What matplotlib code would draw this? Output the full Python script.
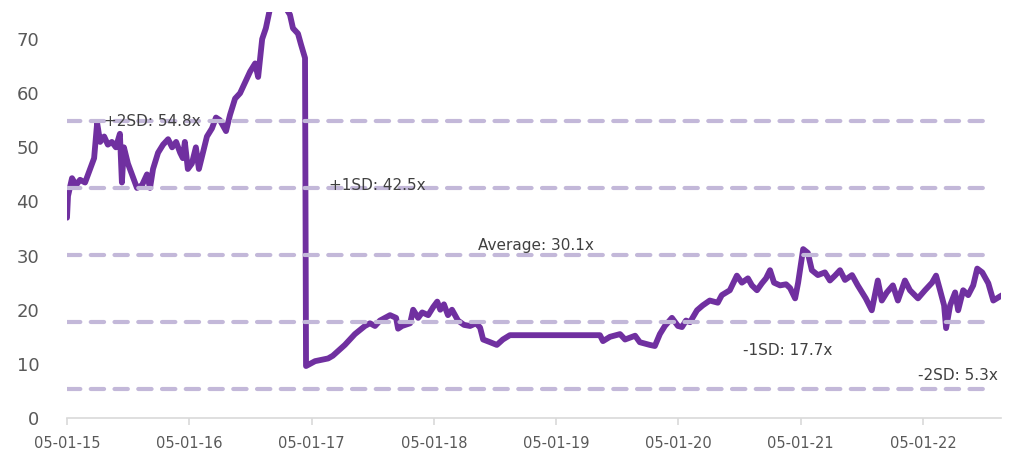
import matplotlib.pyplot as plt
import matplotlib.dates as mdates
import pandas as pd

# P/E history
dates = [
    "2015-01-05", "2015-01-08", "2015-01-20", "2015-02-01", "2015-02-13", "2015-02-28",
    "2015-03-15", "2015-03-27", "2015-04-05", "2015-04-14", "2015-04-26", "2015-05-07",
    "2015-05-19", "2015-05-31", "2015-06-12", "2015-06-18", "2015-06-24", "2015-07-06",
    "2015-07-18", "2015-08-02", "2015-08-17", "2015-09-01", "2015-09-10", "2015-09-19",
    "2015-10-04", "2015-10-19", "2015-11-03", "2015-11-15", "2015-11-27", "2015-12-09",
    "2015-12-17", "2015-12-23", "2016-01-01", "2016-01-13", "2016-01-25", "2016-02-03",
    "2016-02-15", "2016-02-27", "2016-03-13", "2016-03-25", "2016-04-06", "2016-04-24",
    "2016-05-06", "2016-05-21", "2016-06-05", "2016-06-20", "2016-07-05", "2016-07-20",
    "2016-07-29", "2016-08-10", "2016-08-21", "2016-09-02", "2016-09-17", "2016-10-02",
    "2016-10-17", "2016-11-01", "2016-11-10", "2016-11-25", "2016-12-04", "2016-12-16",
    "2016-12-19", "2016-12-31", "2017-01-15", "2017-01-30", "2017-02-23", "2017-03-09",
    "2017-04-14", "2017-05-14", "2017-06-13", "2017-06-28", "2017-07-13", "2017-07-28",
    "2017-08-12", "2017-08-27", "2017-09-14", "2017-09-20", "2017-10-02", "2017-10-26",
    "2017-11-04", "2017-11-19", "2017-12-01", "2017-12-19", "2018-01-03", "2018-01-15",
    "2018-01-24", "2018-02-04", "2018-02-16", "2018-02-28", "2018-03-18", "2018-04-05",
    "2018-04-23", "2018-05-11", "2018-05-23", "2018-06-01", "2018-06-22", "2018-07-12",
    "2018-07-30", "2018-08-20", "2019-05-16", "2019-05-25", "2019-06-15", "2019-07-15",
    "2019-07-30", "2019-08-29", "2019-09-12", "2019-10-12", "2019-10-27", "2019-11-11",
    "2019-11-26", "2019-12-17", "2020-01-04", "2020-01-16", "2020-01-28", "2020-02-09",
    "2020-03-01", "2020-03-18", "2020-04-08", "2020-05-02", "2020-05-14", "2020-06-07",
    "2020-06-28", "2020-07-13", "2020-07-31", "2020-08-12", "2020-08-27", "2020-09-11",
    "2020-09-23", "2020-10-05", "2020-10-17", "2020-11-04", "2020-11-22", "2020-12-04",
    "2020-12-19", "2020-12-28", "2021-01-12", "2021-01-26", "2021-02-07", "2021-02-25",
    "2021-03-18", "2021-04-02", "2021-04-17", "2021-05-02", "2021-05-17", "2021-06-07",
    "2021-06-24", "2021-07-18", "2021-08-05", "2021-08-23", "2021-09-04", "2021-09-19",
    "2021-10-07", "2021-10-22", "2021-11-12", "2021-11-27", "2021-12-21", "2022-01-11",
    "2022-02-01", "2022-02-13", "2022-02-25", "2022-03-09", "2022-03-15", "2022-03-27",
    "2022-04-11", "2022-04-20", "2022-05-05", "2022-05-20", "2022-06-04", "2022-06-16",
    "2022-07-01", "2022-07-19", "2022-08-03", "2022-08-24", "2022-08-30",
]
pe = [
    37.0, 41.0, 44.3, 43.0, 44.0, 43.5,
    46.0, 48.0, 54.5, 51.0, 52.0, 50.5,
    51.0, 50.0, 52.5, 43.5, 50.0, 47.0,
    45.0, 42.5, 43.0, 45.0, 42.5, 46.0,
    49.0, 50.5, 51.5, 50.0, 51.0, 49.0,
    48.0, 51.0, 46.0, 47.0, 50.0, 46.0,
    49.0, 52.0, 53.5, 55.5, 55.0, 53.0,
    56.0, 59.0, 60.0, 62.0, 64.0, 65.5,
    63.0, 70.0, 72.0, 75.5, 77.0, 77.0,
    76.0, 74.5, 72.0, 71.0, 69.0, 66.5,
    9.6, 10.0, 10.5, 10.7, 11.0, 11.5,
    13.5, 15.5, 17.0, 17.5, 17.0, 18.0,
    18.5, 19.0, 18.5, 16.5, 17.0, 17.5,
    20.0, 18.5, 19.5, 19.0, 20.5, 21.5,
    20.0, 21.0, 19.0, 20.0, 18.0, 17.2,
    17.0, 17.5, 16.7, 14.5, 14.0, 13.5,
    14.5, 15.3, 15.3, 14.2, 15.0, 15.5,
    14.5, 15.2, 14.0, 13.5, 13.3, 15.5,
    17.0, 18.5, 17.0, 16.8, 18.0, 17.7,
    19.9, 20.8, 21.7, 21.3, 22.7, 23.6,
    26.3, 25.0, 25.8, 24.5, 23.6, 24.9,
    25.8, 27.3, 25.0, 24.5, 24.7, 24.0,
    22.1, 25.0, 31.2, 30.5, 27.3, 26.4,
    26.9, 25.4, 26.3, 27.3, 25.5, 26.4,
    24.5, 22.1, 19.9, 25.4, 21.7, 23.2,
    24.5, 21.7, 25.4, 23.6, 22.1, 23.6,
    25.0, 26.3, 23.6, 20.8, 16.6, 20.8,
    23.2, 19.9, 23.6, 22.7, 24.5, 27.6,
    26.9, 24.9, 21.7, 22.5, 22.7,
]

band_values = [54.8, 42.5, 30.1, 17.7, 5.3]
band_labels = ["+2SD: 54.8x", "+1SD: 42.5x", "Average: 30.1x", "-1SD: 17.7x", "-2SD: 5.3x"]
label_dates = ["2015-04-25", "2017-02-25", "2018-05-17", "2020-07-16", "2021-12-20"]
label_offsets = [0.0, 0.4, 1.8, -5.2, 2.6]

yticks = [0, 10, 20, 30, 40, 50, 60, 70]
xticks = ["2015-01-05", "2016-01-05", "2017-01-05", "2018-01-05", "2019-01-05",
          "2020-01-05", "2021-01-05", "2022-01-05"]

df = pd.DataFrame({"date": pd.to_datetime(dates), "pe": pe})

fig = plt.figure(figsize=(10.22, 4.59), dpi=100)
ax = fig.add_axes([67 / 1022, 41 / 459, (1001 - 67) / 1022, (447 - 41) / 459])

ax.plot(df.date, df.pe, color="#7030a0", linewidth=4.2, zorder=2,
        solid_joinstyle="round", solid_capstyle="round")

x0 = pd.Timestamp("2015-01-05")
x1 = pd.Timestamp("2022-08-26")
for v in band_values:
    ax.plot([x0, pd.Timestamp("2022-07-28")], [v, v], color="#c3b8d9", linewidth=3.0,
            dashes=(3.2, 2.5), dash_capstyle="round", zorder=3)

for lab, d, v, off in zip(band_labels, label_dates, band_values, label_offsets):
    ax.text(pd.Timestamp(d), v + off, lab, fontsize=11, color="#404040",
            va="center", ha="left", zorder=4)

ax.set_xlim(x0, x1)
ax.set_ylim(0, 75)
ax.set_yticks(yticks)
ax.set_xticks(pd.to_datetime(xticks))
ax.xaxis.set_major_formatter(mdates.DateFormatter("%d-%m-%y"))

for s in ["top", "right", "left"]:
    ax.spines[s].set_visible(False)
ax.spines["bottom"].set_color("#d9d9d9")
ax.spines["bottom"].set_linewidth(1.2)
ax.tick_params(axis="y", length=0, labelsize=13, labelcolor="#595959", pad=20)
ax.tick_params(axis="x", length=5, color="#d9d9d9", width=1.2, labelsize=10.5,
               labelcolor="#595959", pad=8)

plt.savefig("out.png", dpi=100)
